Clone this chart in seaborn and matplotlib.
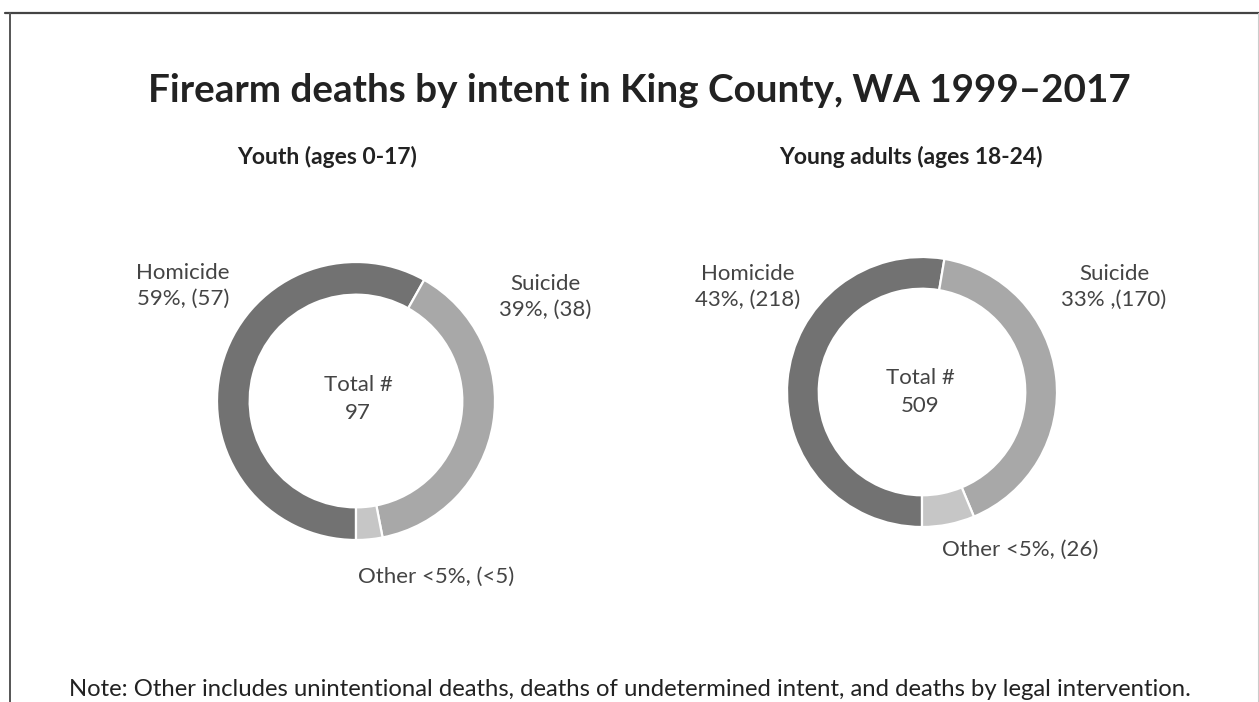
import matplotlib
matplotlib.use("Agg")
import matplotlib.pyplot as plt
import seaborn as sns

# data
intents = ["Homicide", "Suicide", "Other"]
youth_counts = [57, 38, 3]
adult_counts = [218, 170, 26]
youth_pct = ["59%, (57)", "39%, (38)", "<5%, (<5)"]
adult_pct = ["43%, (218)", "33% ,(170)", "<5%, (26)"]
youth_total = 97
adult_total = 509

sns.set_theme(style="white")
plt.rcParams["font.family"] = ["Lato", "DejaVu Sans"]

W, H = 1259, 702
fig = plt.figure(figsize=(W / 100, H / 100), dpi=100)
colors = ["#727272", "#a8a8a8", "#c6c6c6"]


def px(x, y):
    return x / W, 1 - y / H


def donut(cx, cy, r, counts):
    ax = fig.add_axes([(cx - r) / W, (H - cy - r) / H, 2 * r / W, 2 * r / H])
    ax.pie(counts, colors=colors, startangle=270, counterclock=False,
           wedgeprops=dict(width=0.235, edgecolor="white", linewidth=1.6))
    ax.set_xlim(-1, 1)
    ax.set_ylim(-1, 1)
    ax.set_aspect("equal")
    ax.axis("off")
    return ax


donut(356, 401, 139, youth_counts)
donut(922, 392, 135, adult_counts)

fig.text(*px(639, 90), "Firearm deaths by intent in King County, WA 1999\u20132017",
         ha="center", va="center", fontsize=27.8, fontweight="bold", color="#222222")
fig.text(*px(327, 157), "Youth (ages 0-17)", ha="center", va="center",
         fontsize=16.5, fontweight="bold", color="#222222")
fig.text(*px(911, 157), "Young adults (ages 18-24)", ha="center", va="center",
         fontsize=16.5, fontweight="bold", color="#222222")

lab = dict(ha="center", va="center", fontsize=16, color="#444444", linespacing=1.37)
fig.text(*px(183, 286), intents[0] + "\n" + youth_pct[0], **lab)
fig.text(*px(545, 297), intents[1] + "\n" + youth_pct[1], **lab)
fig.text(*px(436, 577), intents[2] + " " + youth_pct[2], **lab)
fig.text(*px(358, 399), "Total #\n" + str(youth_total), **dict(lab, linespacing=1.52))

fig.text(*px(748, 287), intents[0] + "\n" + adult_pct[0], **lab)
fig.text(*px(1114, 287), intents[1] + "\n" + adult_pct[1], **lab)
fig.text(*px(1020, 550), intents[2] + " " + adult_pct[2], **lab)
fig.text(*px(920, 392), "Total #\n" + str(adult_total), **dict(lab, linespacing=1.52))

fig.text(*px(630, 690),
         "Note: Other includes unintentional deaths, deaths of undetermined intent, and deaths by legal intervention.",
         ha="center", va="center", fontsize=17.2, color="#222222")

# frame of the scanned page
fig.add_artist(plt.Line2D([5 / W, 1], [1 - 13 / H, 1 - 13 / H], color="#444444", lw=1.6))
fig.add_artist(plt.Line2D([10.5 / W, 10.5 / W], [0, 1 - 13 / H], color="#555555", lw=1.4))
fig.add_artist(plt.Line2D([1257.5 / W, 1257.5 / W], [0, 1 - 13 / H], color="#cccccc", lw=0.8))

fig.savefig("out.png", dpi=100, facecolor="white")
